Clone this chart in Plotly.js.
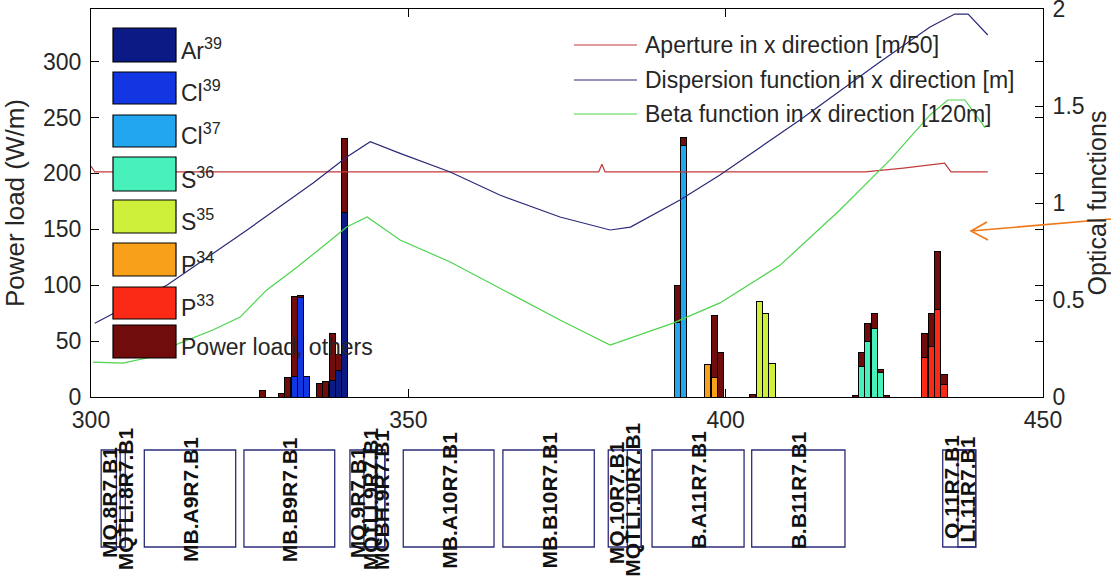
<!DOCTYPE html>
<html><head><meta charset="utf-8">
<script src="https://cdn.plot.ly/plotly-3.0.1.min.js"></script>
<style>html,body{margin:0;padding:0;background:#fff}#chart{width:1111px;height:579px}</style>
</head><body><div id="chart"></div>
<script>
const _ = null;
// ---------------- bar data: power load (W/m) ----------------
const barPos = [327,330,331,332,333,334,336,337,338,339,340,392.4,393.4,397.2,398.2,399.2,404.3,405.3,406.3,407.3,420.4,421.4,422.4,423.4,424.4,425.4,431.4,432.4,433.4,434.4];
const ar39   = [_,_,_,_,_,_,_,_,15,24,165, _,_, _,_,_, _,_,_,_, _,_,_,_,_,_, _,_,_,_];
const cl39   = [_,_,_,18,89,18,_,_,_,_,_, _,_, _,_,_, _,_,_,_, _,_,_,_,_,_, _,_,_,_];
const cl37   = [_,_,_,_,_,_,_,_,_,_,_, 67,225, _,_,_, _,_,_,_, _,_,_,_,_,_, _,_,_,_];
const s36    = [_,_,_,_,_,_,_,_,_,_,_, _,_, _,_,_, _,_,_,_, _,27,50,61,22,_, _,_,_,_];
const s35    = [_,_,_,_,_,_,_,_,_,_,_, _,_, _,_,_, _,85,75,30, _,_,_,_,_,_, _,_,_,_];
const p34    = [_,_,_,_,_,_,_,_,_,_,_, _,_, 29,17,_, _,_,_,_, _,_,_,_,_,_, _,_,_,_];
const p33    = [_,_,_,_,_,_,_,_,_,_,_, _,_, _,_,_, _,_,_,_, _,_,_,_,_,_, 35,45,78,11];
const others = [6,3,17,72,2,_,12,14,42,14,66, 33,7, _,56,40, 2,_,_,_, 1,13,16,14,3,1, 22,30,52,9];

const seriesNames  = ['Ar<sup>39</sup>','Cl<sup>39</sup>','Cl<sup>37</sup>','S<sup>36</sup>','S<sup>35</sup>','P<sup>34</sup>','P<sup>33</sup>','Power load, others'];
const seriesColors = ['#0c1a86','#1236e2','#22a6f0','#48f0bc','#cef03a','#f9a01a','#fa2a16','#700c0c'];
const seriesData   = [ar39, cl39, cl37, s36, s35, p34, p33, others];

// ---------------- optical functions (right axis) ----------------
const apX   = [300,300.6,380.0,380.5,381.0,422,428,434.5,435.5,441.3];
const apY   = [1.19,1.16,1.16,1.2,1.16,1.16,1.18,1.205,1.16,1.16];
const dispX = [300.6,312.0,324.6,335.0,340.3,344.0,348.7,356.6,364.4,373.9,381.8,385.0,392.8,399.1,411.7,424.3,432.2,436.1,438.2,441.3];
const dispY = [0.38,0.577,0.861,1.103,1.237,1.316,1.256,1.16,1.041,0.928,0.861,0.876,1.015,1.144,1.428,1.727,1.907,1.974,1.974,1.866];
const betaX = [300.3,305.0,308.8,314.0,319.2,323.5,327.7,332.5,337.2,340.3,343.5,348.7,356.6,364.4,373.9,381.8,391.7,399.1,408.6,418.0,425.9,432.2,435.0,437.7,440.9];
const betaY = [0.18,0.175,0.201,0.278,0.345,0.412,0.552,0.67,0.794,0.876,0.928,0.809,0.696,0.562,0.397,0.268,0.381,0.485,0.68,0.964,1.222,1.454,1.531,1.531,1.387];
const lineNames  = ['Aperture in x direction [m/50]','Dispersion function in x direction [m]','Beta function in x direction [120m]'];
const lineColors = ['#c23a3a','#2a2a78','#4cd44c'];

// ---------------- beam-line elements (s position, m) ----------------
const elemStart = [301.6,308.4,324.1,340.8,349.2,364.9,381.5,388.4,404.1,434.2];
const elemEnd   = [304.6,322.8,338.4,346.3,363.5,379.3,386.7,402.9,418.8,439.4];
const subStart  = [304.0,343.0,344.8,384.5,436.6];
const subEnd    = [305.4,345.0,346.3,386.7,439.4];
const elemLabels = ['MQ.8R7.B1','MQTLI.8R7.B1','MB.A9R7.B1','MB.B9R7.B1','MQ.9R7.B1','MQTLI.9R7.B1','MCBH.9R7.B1','MB.A10R7.B1','MB.B10R7.B1','MQ.10R7.B1','MQTLI.10R7.B1','B.A11R7.B1','B.B11R7.B1','Q.11R7.B1','LI.11R7.B1'];
const labelS     = [303.0,305.4,315.6,331.25,342.1,344.0,345.7,356.35,372.1,382.9,385.2,395.65,411.45,435.5,438.0];

// ---------------- layout helpers (pixel -> paper) ----------------
const L=91, R=1043, T=9, B=397;
const px = v => (v-L)/(R-L);
const py = v => (B-v)/(B-T);
const FONT = 'Liberation Sans, Arial, sans-serif';
const TXT = '#262626';

const traces = [];
seriesData.forEach((d,i)=>{
  traces.push({type:'bar', x:barPos, y:d, name:seriesNames[i], width:0.95,
    marker:{color:seriesColors[i], line:{color:'#000', width:1}}, showlegend:false, hoverinfo:'x+y+name'});
});
[[apX,apY],[dispX,dispY],[betaX,betaY]].forEach((p,i)=>{
  traces.push({type:'scatter', mode:'lines', x:p[0], y:p[1], yaxis:'y2', name:lineNames[i],
    line:{color:lineColors[i], width:1.2}, showlegend:false});
});

const shapes = [], annotations = [];
// bar legend (drawn manually with large swatches)
const swTop = [28,72,115,157,200,243,287,325], swBot=[62,104,147,191,233,276,319,358];
seriesNames.forEach((n,i)=>{
  shapes.push({type:'rect', xref:'paper', yref:'paper', x0:px(113), x1:px(176), y0:py(swBot[i]), y1:py(swTop[i]),
    fillcolor:seriesColors[i], line:{color:'#000', width:1.2}});
  annotations.push({xref:'paper', yref:'paper', x:px(179), y:py(swBot[i]+4), xanchor:'left', yanchor:'bottom',
    text:n, showarrow:false, font:{family:FONT, size:23, color:TXT}});
});
// line legend
const llY = [45,80,114];
lineNames.forEach((n,i)=>{
  shapes.push({type:'line', xref:'paper', yref:'paper', x0:px(574), x1:px(637), y0:py(llY[i]), y1:py(llY[i]),
    line:{color:lineColors[i], width:1.2}});
  annotations.push({xref:'paper', yref:'paper', x:px(643), y:py(llY[i]), xanchor:'left', yanchor:'middle',
    text:n, showarrow:false, font:{family:FONT, size:23, color:TXT}});
});
// element boxes below the axis
elemStart.forEach((s,i)=>{
  shapes.push({type:'rect', xref:'x', yref:'paper', x0:s, x1:elemEnd[i], y0:py(547), y1:py(450),
    line:{color:'#2c2c7a', width:1.3}, fillcolor:'rgba(0,0,0,0)'});
});
subStart.forEach((s,i)=>{
  shapes.push({type:'rect', xref:'x', yref:'paper', x0:s, x1:subEnd[i], y0:py(547), y1:py(450),
    line:{color:'#2c2c7a', width:1.3}, fillcolor:'rgba(0,0,0,0)'});
});
const labY = [503,499,500,500,503,499,500,500,500,503,500,490,490,487,489];
elemLabels.forEach((t,i)=>{
  annotations.push({xref:'x', yref:'paper', x:labelS[i], y:py(labY[i]), xanchor:'center', yanchor:'middle',
    textangle:-90, text:'<b>'+t+'</b>', showarrow:false, font:{family:FONT, size:21, color:'#111'}});
});
// orange arrow pointing to the right axis
shapes.push({type:'path', xref:'paper', yref:'paper',
  path:`M ${px(1111)} ${py(219)} L ${px(971)} ${py(231)} M ${px(987)} ${py(222)} L ${px(971)} ${py(231)} L ${px(988)} ${py(240)}`,
  line:{color:'#f07818', width:1.6}});

const layout = {
  width:1111, height:579,
  margin:{l:L, r:1111-R, t:T, b:579-B},
  paper_bgcolor:'#fff', plot_bgcolor:'#fff',
  barmode:'stack', bargap:0,
  font:{family:FONT, size:23, color:TXT},
  xaxis:{range:[300,450], tickvals:[300,350,400,450], ticks:'inside', ticklen:8, tickcolor:'#000',
    showline:true, linecolor:'#000', linewidth:1, mirror:'ticks', showgrid:false, zeroline:false,
    tickfont:{family:FONT, size:23, color:TXT}, ticklabelstandoff:2, ticklabeloverflow:'allow'},
  yaxis:{range:[0,347], tickvals:[0,50,100,150,200,250,300], ticks:'inside', ticklen:8, tickcolor:'#000',
    showline:true, linecolor:'#000', linewidth:1, mirror:'ticks', showgrid:false, zeroline:false,
    tickfont:{family:FONT, size:23, color:TXT}, ticklabelstandoff:4, ticklabeloverflow:'allow',
    title:{text:'Power load (W/m)', font:{family:FONT, size:26, color:TXT}, standoff:12}},
  yaxis2:{range:[0,2], overlaying:'y', side:'right', tickvals:[0,0.5,1,1.5,2], ticktext:['0','0.5','1','1.5','2'],
    ticks:'inside', ticklen:8, tickcolor:'#000', showline:true, linecolor:'#000', linewidth:1,
    showgrid:false, zeroline:false, tickfont:{family:FONT, size:23, color:TXT}, ticklabelstandoff:4,
    ticklabeloverflow:'allow',
    title:{text:'Optical functions', font:{family:FONT, size:25, color:TXT}, standoff:12}},
  showlegend:false,
  shapes:shapes, annotations:annotations
};
Plotly.newPlot('chart', traces, layout, {staticPlot:true, displayModeBar:false});
</script></body></html>
